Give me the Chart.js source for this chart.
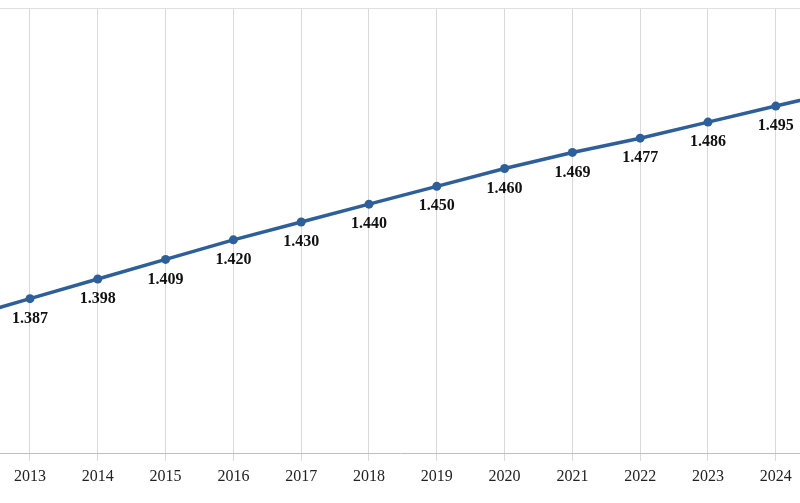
<!DOCTYPE html>
<html>
<head>
<meta charset="utf-8">
<script src="https://cdn.jsdelivr.net/npm/chart.js@4/dist/chart.umd.min.js"></script>
<style>
  html, body { margin: 0; padding: 0; background: #fff; }
  #wrap { width: 800px; height: 503px; }
</style>
</head>
<body>
<div id="wrap"><canvas id="chart"></canvas></div>
<script>
const years = [2012, 2013, 2014, 2015, 2016, 2017, 2018, 2019, 2020, 2021, 2022, 2023, 2024, 2025];
const values = [1.376, 1.387, 1.398, 1.409, 1.420, 1.430, 1.440, 1.450, 1.460, 1.469, 1.477, 1.486, 1.495, 1.504];

// visible window of the x axis (the picture is a crop of a wider chart)
const xMin = 2012.558;
const xMax = 2024.357;
const yMin = 1.30;
const yMax = 1.55;

const lineColor = "#2d5f9a";

const pointLabels = {
  id: "pointLabels",
  afterDatasetsDraw(chart) {
    const { ctx, chartArea } = chart;
    const meta = chart.getDatasetMeta(0);
    ctx.save();
    ctx.font = "bold 16px 'Liberation Serif', 'Times New Roman', serif";
    ctx.fillStyle = "#111";
    ctx.textAlign = "center";
    ctx.textBaseline = "middle";
    meta.data.forEach((pt, i) => {
      if (pt.x < chartArea.left - 1 || pt.x > chartArea.right + 1) return;
      ctx.fillText(values[i].toFixed(3), pt.x, pt.y + 20);
    });
    ctx.restore();
  },
};

new Chart(document.getElementById("chart"), {
  type: "line",
  data: {
    datasets: [{
      data: years.map((y, i) => ({ x: y, y: values[i] })),
      borderColor: lineColor,
      backgroundColor: lineColor,
      borderWidth: 3.5,
      pointRadius: 4.5,
      pointBackgroundColor: lineColor,
      pointBorderWidth: 0,
      tension: 0,
    }],
  },
  options: {
    responsive: true,
    maintainAspectRatio: false,
    animation: false,
    layout: { autoPadding: false, padding: { top: 8, left: 0, right: 0, bottom: 11 } },
    plugins: {
      legend: { display: false },
      tooltip: { enabled: false },
    },
    scales: {
      x: {
        type: "linear",
        min: xMin,
        max: xMax,
        afterBuildTicks: (scale) => {
          scale.ticks = scale.ticks.filter((t) => Number.isInteger(t.value));
        },
        ticks: {
          stepSize: 1,
          includeBounds: false,
          padding: 6,
          color: "#222",
          font: { family: "'Liberation Serif', 'Times New Roman', serif", size: 16 },
          callback: (v) => String(v),
        },
        grid: { color: "#d9d9d9", lineWidth: 1, tickLength: 7 },
        border: { color: "#bfbfbf", width: 1 },
      },
      y: {
        min: yMin,
        max: yMax,
        ticks: { display: false, stepSize: 0.05 },
        grid: {
          drawTicks: false,
          color: (c) => (Math.abs(c.tick.value - yMax) < 1e-6 ? "#e0e0e0" : "transparent"),
        },
        border: { display: false },
      },
    },
  },
  plugins: [pointLabels],
});
</script>
</body>
</html>
